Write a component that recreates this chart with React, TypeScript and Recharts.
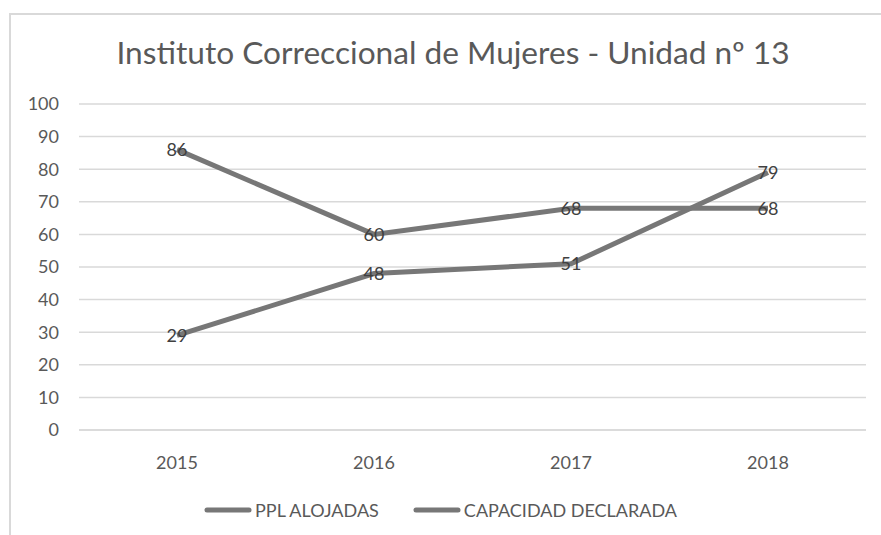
import React from "react";
import { LineChart, Line, XAxis, YAxis, CartesianGrid, Legend, LabelList } from "recharts";

const years = ["2015", "2016", "2017", "2018"];
const pplAlojadas = [29, 48, 51, 79];
const capacidadDeclarada = [86, 60, 68, 68];
const yTicks = [0, 10, 20, 30, 40, 50, 60, 70, 80, 90, 100];

const title = "Instituto Correccional de Mujeres - Unidad nº 13";
const seriesNames = ["PPL ALOJADAS", "CAPACIDAD DECLARADA"];

const data = years.map((y, i) => ({
  year: y,
  ppl: pplAlojadas[i],
  cap: capacidadDeclarada[i],
}));

const FONT = "Lato, 'Open Sans', sans-serif";
const LINE_COLOR = "#777777";
const TEXT_COLOR = "#595959";

const LegendContent = () => (
  <div style={{ display: "flex", justifyContent: "center", alignItems: "center", fontFamily: FONT, fontSize: 18, color: TEXT_COLOR }}>
    {seriesNames.map((n, i) => (
      <div key={n} style={{ display: "flex", alignItems: "center", marginRight: i === 0 ? 34 : 0 }}>
        <svg width={48} height={8} style={{ marginRight: 3 }}>
          <line x1={3} y1={4} x2={45} y2={4} stroke={LINE_COLOR} strokeWidth={5} strokeLinecap="round" />
        </svg>
        <span>{n}</span>
      </div>
    ))}
  </div>
);

export default function App() {
  return (
    <div style={{ position: "absolute", left: 0, top: 0, width: 881, height: 535, background: "#fff" }}>
      <div style={{ position: "absolute", left: 9, top: 13, width: 872, height: 1.5, background: "#d9d9d9" }} />
      <div style={{ position: "absolute", left: 9, top: 13, width: 1.5, height: 522, background: "#d9d9d9" }} />
      <svg style={{ position: "absolute", left: 0, top: 0 }} width={881} height={100}>
        <text x={453} y={64} textAnchor="middle" fontFamily={FONT} fontSize={31} fill={TEXT_COLOR} textLength={673} lengthAdjust="spacingAndGlyphs">
          {title}
        </text>
      </svg>
      <div style={{ position: "absolute", left: 0, top: 0 }}>
        <LineChart width={881} height={535} data={data} margin={{ top: 104, right: 15, left: 9, bottom: 75 }}>
          <CartesianGrid vertical={false} stroke="#d9d9d9" strokeWidth={1.5} />
          <XAxis
            dataKey="year"
            axisLine={{ stroke: "#d9d9d9", strokeWidth: 1.5 }}
            tickLine={false}
            tick={{ fill: TEXT_COLOR, fontSize: 18, fontFamily: FONT }}
            tickMargin={20}
            height={30}
            padding={{ left: 98, right: 98 }}
          />
          <YAxis
            domain={[0, 100]}
            ticks={yTicks}
            axisLine={false}
            tickLine={false}
            width={70}
            tickMargin={14}
            tick={{ fill: TEXT_COLOR, fontSize: 18, fontFamily: FONT }}
          />
          <Legend
            layout="horizontal"
            verticalAlign="middle"
            align="center"
            content={<LegendContent />}
            wrapperStyle={{ top: 499, left: 0, width: 881 }}
          />
          <Line type="linear" dataKey="ppl" name={seriesNames[0]} stroke={LINE_COLOR} strokeWidth={5} dot={false} isAnimationActive={false}>
            <LabelList dataKey="ppl" position="center" fill="#404040" fontSize={18} fontFamily={FONT} />
          </Line>
          <Line type="linear" dataKey="cap" name={seriesNames[1]} stroke={LINE_COLOR} strokeWidth={5} dot={false} isAnimationActive={false}>
            <LabelList dataKey="cap" position="center" fill="#404040" fontSize={18} fontFamily={FONT} />
          </Line>
        </LineChart>
      </div>
    </div>
  );
}
